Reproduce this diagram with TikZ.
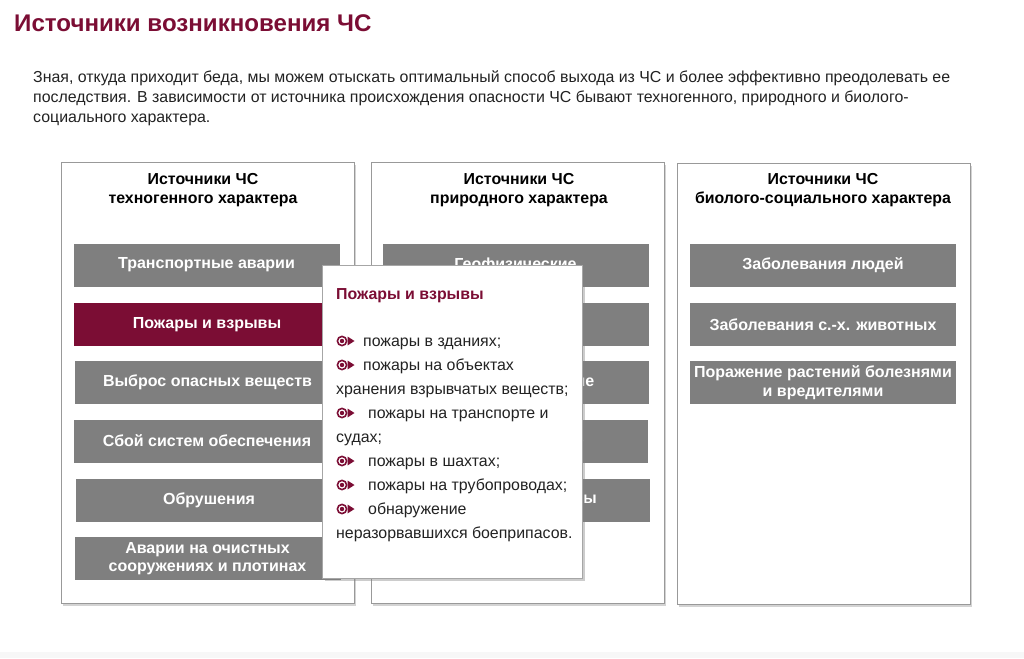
\documentclass[tikz,border=0pt]{standalone}
\usepackage{fontspec}
\setmainfont{Liberation Sans}
\usetikzlibrary{positioning, shadows}

\definecolor{chsred}{HTML}{7B0D34}
\definecolor{itemgray}{HTML}{7F7F7F}
\definecolor{textdark}{HTML}{222222}

\begin{document}
\begin{tikzpicture}[x=1pt, y=-1pt,
  column/.style={draw=black!40, fill=white, anchor=north west, inner sep=0pt,
    minimum width=293pt, minimum height=441pt,
    drop shadow={shadow xshift=2pt, shadow yshift=-3pt, opacity=0.35}},
  colhead/.style={font=\bfseries\fontsize{15.9}{19}\selectfont, align=center, text=black, inner sep=0pt},
  item/.style={fill=itemgray, text=white, minimum width=266pt, minimum height=43pt,
    inner sep=0pt, align=center, font=\bfseries\fontsize{16}{18.5}\selectfont},
  popline/.style={anchor=base west, inner sep=0pt, font=\fontsize{15.9}{18}\selectfont, text=textdark},
  bulletmark/.pic={
    \draw[chsred, line width=1.6pt] (0,0) circle (4.6pt);
    \fill[chsred] (0,0) circle (2.2pt);
    \fill[chsred] (5.5,-4.5) -- (12.5,0) -- (5.5,4.5) -- cycle;
  }]
  \useasboundingbox (0,0) rectangle (1024,658);
  \fill[black!3] (0,652) rectangle (1024,658);

  % Title and intro
  \node[anchor=base west, inner sep=0pt, text=chsred, font=\bfseries\fontsize{24.1}{28}\selectfont] (title) at (14,32) {Источники возникновения ЧС};
  \node[anchor=north west, inner sep=0pt, align=left, text=textdark, font=\fontsize{15.9}{20}\selectfont] (intro) at (33,70)
    {Зная, откуда приходит беда, мы можем отыскать оптимальный способ выхода из ЧС и более эффективно преодолевать ее\\
     последствия. В зависимости от источника происхождения опасности ЧС бывают техногенного, природного и биолого-\\
     социального характера.};

  % Columns
  \node[column] (techcol) at (61,162) {};
  \node[column] (natcol) at (371,162) {};
  \node[column] (biocol) at (677,163) {};

  \node[colhead] (techhead) at (203,190.5) {Источники ЧС\\техногенного характера};
  \node[colhead] (nathead) at (519,190.5) {Источники ЧС\\природного характера};
  \node[colhead] (biohead) at (823,190.5) {Источники ЧС\\биолого-социального характера};

  % Technogenic sources
  \node[item] (tech1) at (206.5,265) {Транспортные аварии};
  \node[item, fill=chsred] (tech2) at (207,324.5) {Пожары и взрывы};
  \node[item] (tech3) at (207.5,382.5) {Выброс опасных веществ};
  \node[item] (tech4) at (207,441) {Сбой систем обеспечения};
  \node[item] (tech5) at (209,500) {Обрушения};
  \node[item, font=\bfseries\fontsize{16}{18.5}\selectfont] (tech6) at (207.5,558.5) {Аварии на очистных\\сооружениях и плотинах};

  % Natural sources
  \node[item] (nat1) at (515.5,265) {Геофизические};
  \node[item] (nat2) at (515.5,324.5) {Геологические};
  \node[item] (nat3) at (515.5,382.5) {Метеорологические};
  \node[item] (nat4) at (515,441.5) {Гидрологические};
  \node[item] (nat5) at (516.5,500) {Природные пожары};

  % Biological and social sources
  \node[item] (bio1) at (823,265) {Заболевания людей};
  \node[item] (bio2) at (823,324.5) {Заболевания с.-х. животных};
  \node[item, font=\bfseries\fontsize{16}{18.5}\selectfont] (bio3) at (823,382.5) {Поражение растений болезнями\\и вредителями};

  % Popup for the selected item
  \node[draw=black!35, fill=white, anchor=north west, inner sep=0pt,
    minimum width=260pt, minimum height=313pt,
    drop shadow={shadow xshift=3pt, shadow yshift=-3pt, opacity=0.4}] (popup) at (322,265) {};
  \node[anchor=base west, inner sep=0pt, text=chsred, font=\bfseries\fontsize{15.9}{18}\selectfont] (poptitle) at (336,299) {Пожары и взрывы};

  \pic at (342,341) {bulletmark};
  \node[popline] (fire1) at (363,346) {пожары в зданиях;};
  \pic at (342,365) {bulletmark};
  \node[popline] (fire2) at (363,370) {пожары на объектах};
  \node[popline] (fire2b) at (336,394) {хранения взрывчатых веществ;};
  \pic at (342,413) {bulletmark};
  \node[popline] (fire3) at (368,418) {пожары на транспорте и};
  \node[popline] (fire3b) at (336,442) {судах;};
  \pic at (342,461) {bulletmark};
  \node[popline] (fire4) at (368,466) {пожары в шахтах;};
  \pic at (342,485) {bulletmark};
  \node[popline] (fire5) at (368,490) {пожары на трубопроводах;};
  \pic at (342,509) {bulletmark};
  \node[popline] (fire6) at (368,514) {обнаружение};
  \node[popline] (fire6b) at (336,538) {неразорвавшихся боеприпасов.};
\end{tikzpicture}
\end{document}
